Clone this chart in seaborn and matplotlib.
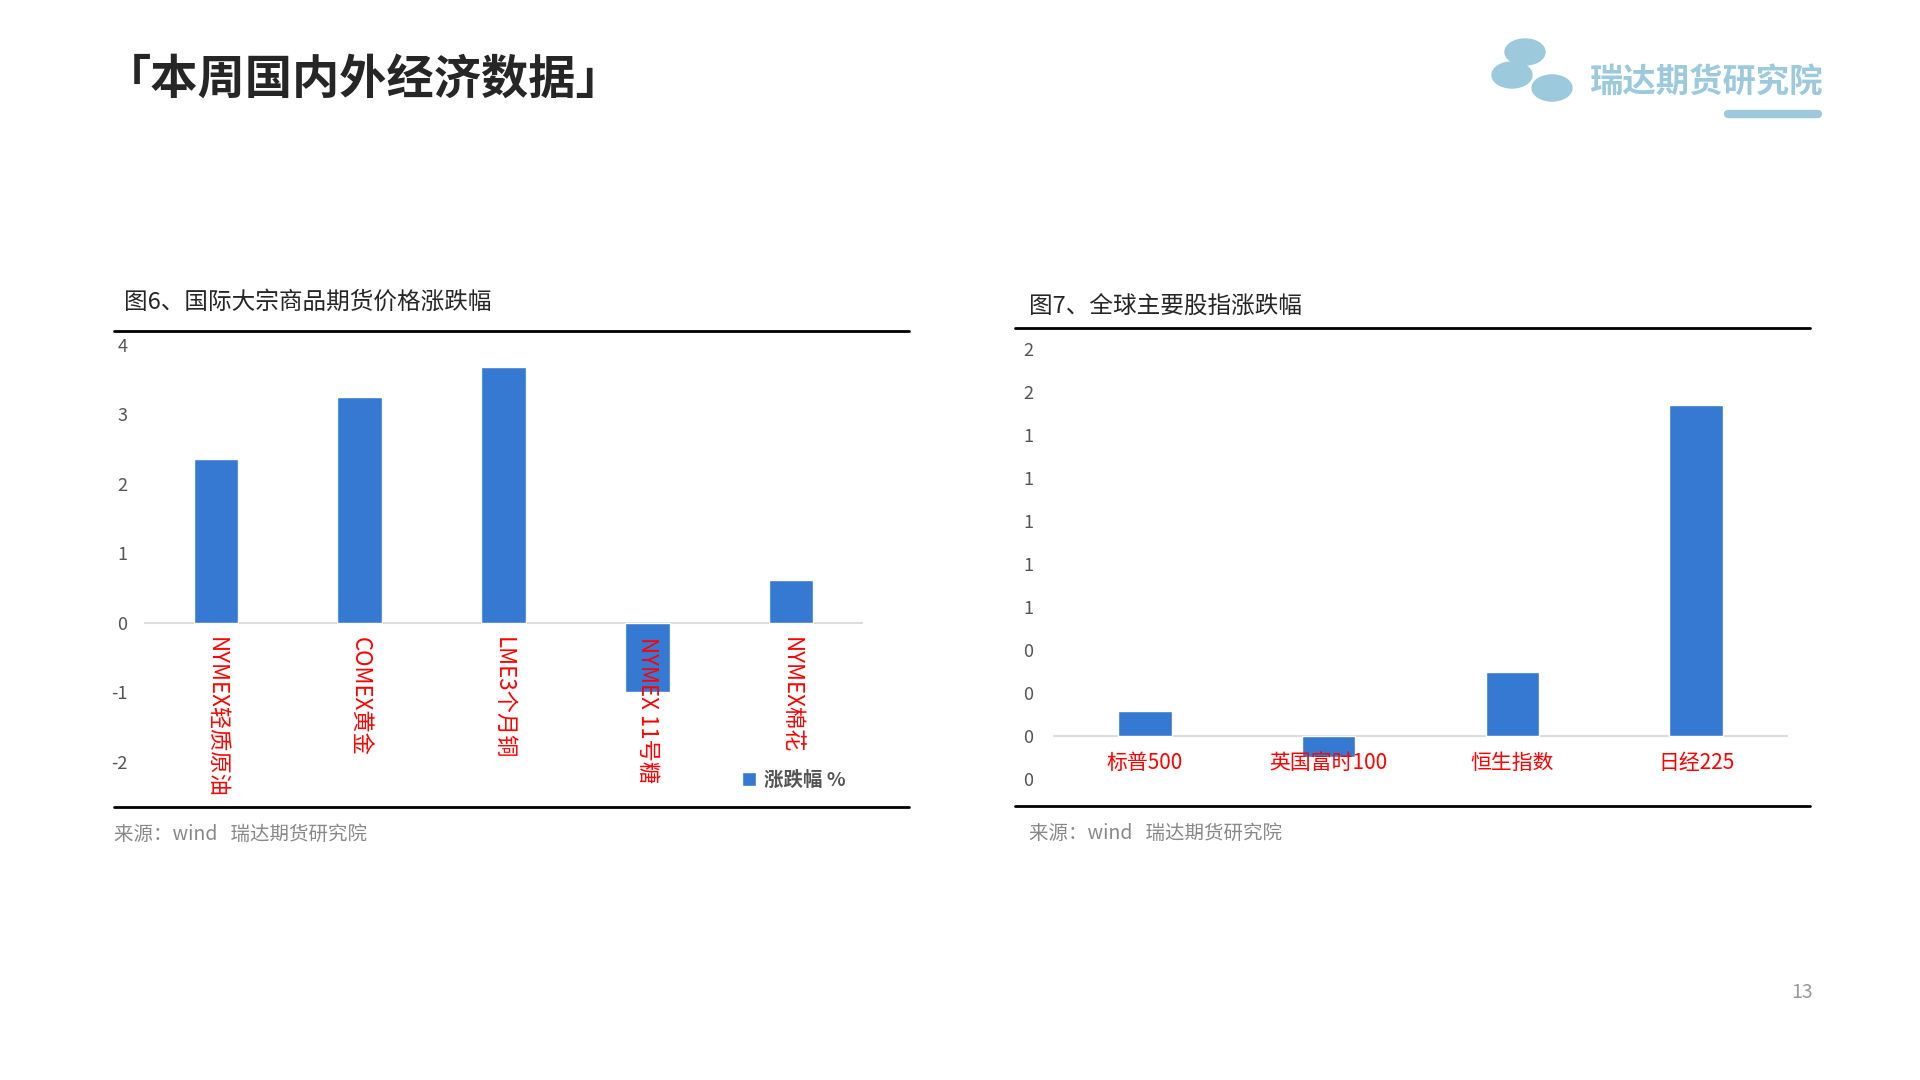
import matplotlib
matplotlib.use("Agg")
import matplotlib.pyplot as plt
import pandas as pd
import seaborn as sns
from matplotlib.lines import Line2D

sns.set_style("white")
plt.rcParams["font.family"] = ["Noto Sans CJK SC", "DejaVu Sans"]
plt.rcParams["axes.unicode_minus"] = False

# data
commodities = ["NYMEX轻质原油", "COMEX黄金", "LME3个月铜", "NYMEX 11号糖", "NYMEX棉花"]
commodity_chg = [2.36, 3.25, 3.68, -1.0, 0.62]
indices = ["标普500", "英国富时100", "恒生指数", "日经225"]
index_chg = [0.116, -0.097, 0.297, 1.54]

BLUE = "#3679d2"
W, H = 1920, 1080


def fx(x):
    return x / W


def fy(y):
    return 1 - y / H


fig = plt.figure(figsize=(19.2, 10.8), dpi=100)

# page title and logo
fig.text(fx(104), fy(80), "「本周国内外经济数据」", fontsize=34, fontweight="bold", va="center")
fig.text(fx(1590), fy(82), "瑞达期货研究院", fontsize=24, fontweight="bold", style="italic",
         color="#9cc9dc", va="center")
fig.add_artist(Line2D([fx(1728), fx(1818)], [fy(114), fy(114)], color="#9cc9dc", lw=6))
for cx, cy in [(1525, 52), (1512, 75), (1552, 88)]:
    fig.add_artist(matplotlib.patches.Ellipse((fx(cx), fy(cy)), 40 / W, 26 / H, color="#9cc9dc"))
fig.text(fx(1802), fy(993), "13", fontsize=14, color="#999999", ha="center", va="center")

# left chart
ax1 = fig.add_axes([fx(144), fy(807), fx(863) - fx(144), fy(331) - fy(807)])
df1 = pd.DataFrame({"name": commodities, "chg": commodity_chg})
sns.barplot(data=df1, x="name", y="chg", color=BLUE, width=0.31, saturation=1, ax=ax1,
            label="涨跌幅 %")
ax1.set_ylim(-2.65, 4.2)
ax1.set_yticks(range(-2, 5))
ax1.set_xlim(-0.5, 4.5)
ax1.axhline(0, color="#dddddd", lw=1.5, zorder=0)
ax1.set_xlabel("")
ax1.set_ylabel("")
ax1.tick_params(axis="y", labelsize=13, labelcolor="#555555", pad=12, length=0)
ax1.tick_params(axis="x", length=0)
ax1.set_xticks(range(len(commodities)))
ax1.set_xticklabels([])
for i, name in enumerate(commodities):
    ax1.text(i, -0.2, name, rotation=-90, color="red", fontsize=16, ha="center", va="top")
for s in ax1.spines.values():
    s.set_visible(False)
leg = ax1.legend(loc="lower right", bbox_to_anchor=(1.0, 0.0), frameon=False,
                 handlelength=0.7, handleheight=0.7, handletextpad=0.4, fontsize=14)
for t in leg.get_texts():
    t.set_color("#555555")
    t.set_fontweight("bold")

fig.text(fx(124), fy(302), "图6、国际大宗商品期货价格涨跌幅", fontsize=17, va="center")
fig.add_artist(Line2D([fx(114), fx(909)], [fy(331), fy(331)], color="black", lw=2))
fig.add_artist(Line2D([fx(114), fx(909)], [fy(807), fy(807)], color="black", lw=2))
fig.text(fx(114), fy(834), "来源：wind   瑞达期货研究院", fontsize=14, color="#888888", va="center")

# right chart
ax2 = fig.add_axes([fx(1053), fy(806), fx(1788) - fx(1053), fy(328) - fy(806)])
df2 = pd.DataFrame({"name": indices, "chg": index_chg})
sns.barplot(data=df2, x="name", y="chg", color=BLUE, width=0.29, saturation=1, ax=ax2)
ax2.set_ylim(-0.326, 1.9)
yt = [-0.2 + 0.2 * k for k in range(11)]
ax2.set_yticks(yt)
ax2.set_yticklabels([str(abs(round(v))) for v in yt])
ax2.set_xlim(-0.5, 3.5)
ax2.axhline(0, color="#dddddd", lw=1.5, zorder=0)
ax2.set_xlabel("")
ax2.set_ylabel("")
ax2.tick_params(axis="y", labelsize=13, labelcolor="#555555", pad=14, length=0)
ax2.tick_params(axis="x", length=0)
ax2.set_xticklabels([])
for i, name in enumerate(indices):
    ax2.text(i, -0.125, name, color="red", fontsize=15, ha="center", va="center")
for s in ax2.spines.values():
    s.set_visible(False)

fig.text(fx(1029), fy(307), "图7、全球主要股指涨跌幅", fontsize=17, va="center")
fig.add_artist(Line2D([fx(1015), fx(1810)], [fy(328), fy(328)], color="black", lw=2))
fig.add_artist(Line2D([fx(1015), fx(1810)], [fy(806), fy(806)], color="black", lw=2))
fig.text(fx(1029), fy(833), "来源：wind   瑞达期货研究院", fontsize=14, color="#888888", va="center")

fig.savefig("out.png", dpi=100)
